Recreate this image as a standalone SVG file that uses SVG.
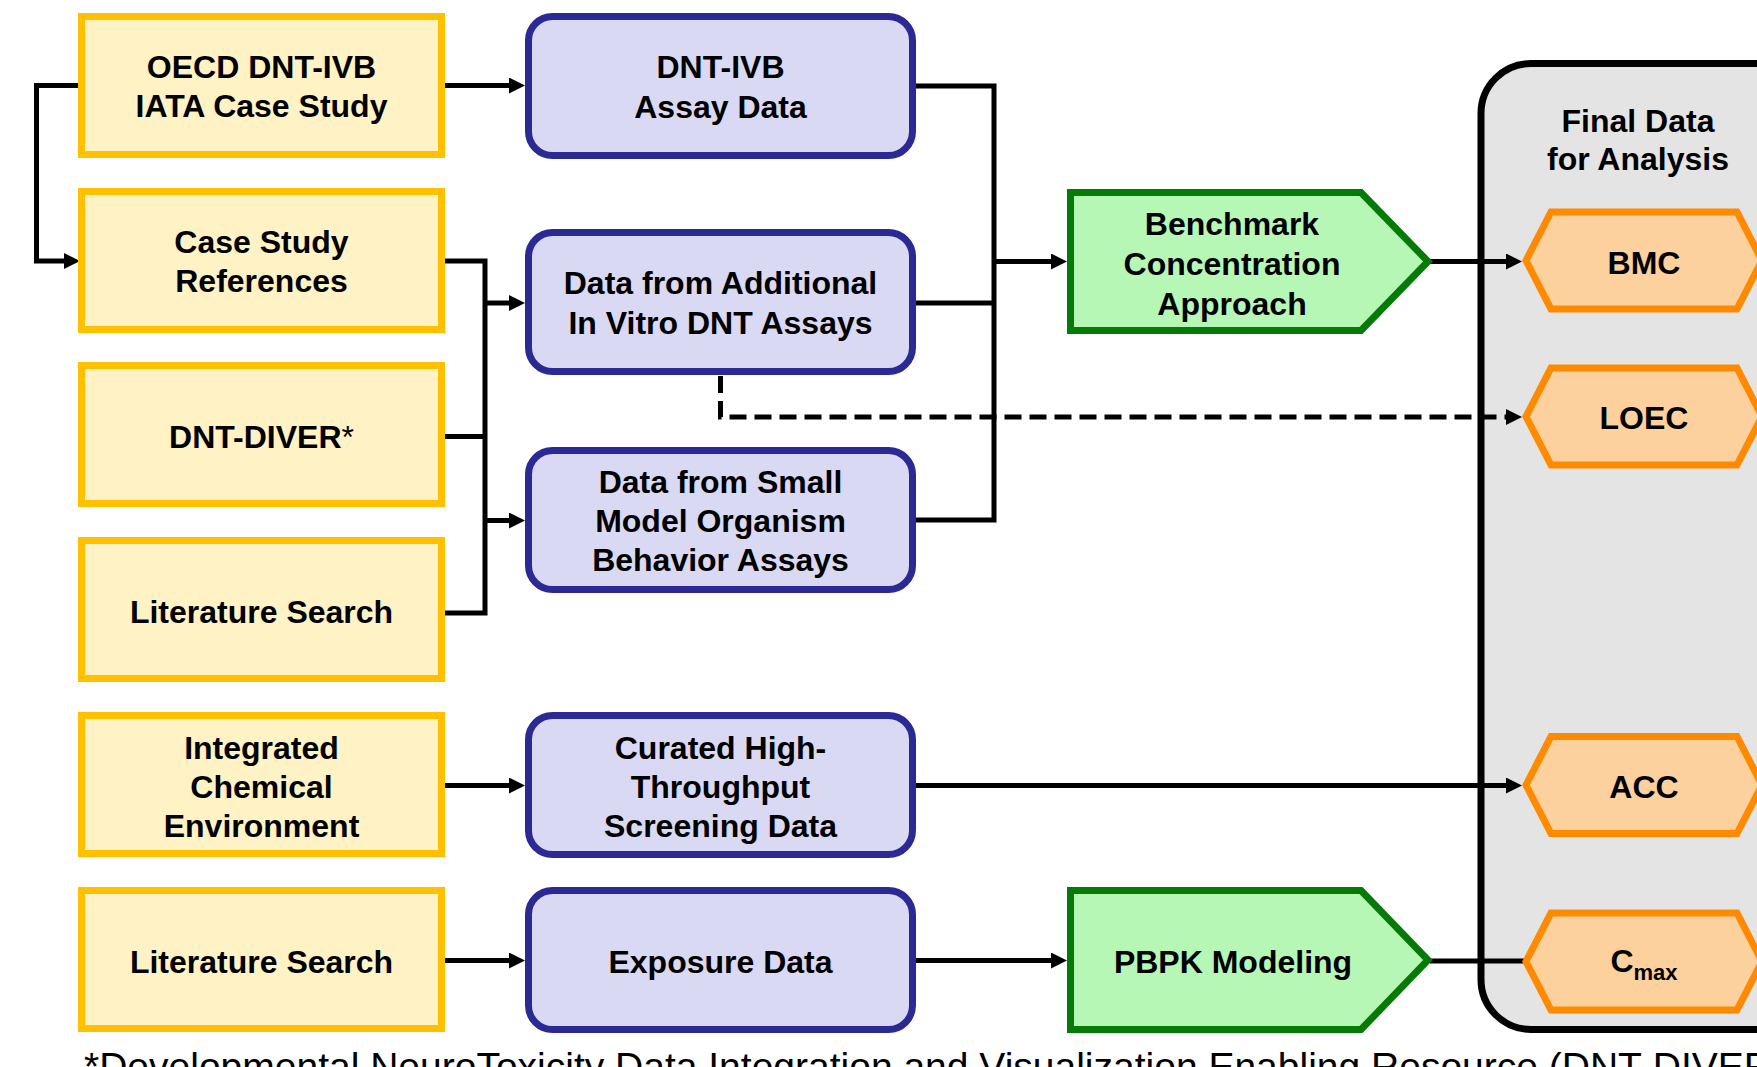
<svg xmlns="http://www.w3.org/2000/svg" width="1757" height="1067" viewBox="0 0 1757 1067">
<defs>
<marker id="arr" markerUnits="userSpaceOnUse" markerWidth="16" markerHeight="16" viewBox="0 0 16 16" refX="2" refY="8" orient="auto">
<path d="M0,0 L16,8 L0,16 z" fill="#000" stroke="none"/>
</marker>
</defs>
<style>
text{font-family:"Liberation Sans",Arial,Helvetica,sans-serif;font-weight:bold;font-size:32px;fill:#000;text-anchor:middle}
.src rect{fill:#FFF2C4;stroke:#FFC000;stroke-width:7}
.data rect{fill:#D9D9F3;stroke:#2B2A94;stroke-width:7}
.proc polygon{fill:#B6F7B6;stroke:#067A06;stroke-width:7;stroke-linejoin:miter}
.out polygon{fill:#FDD19E;stroke:#FF8A00;stroke-width:7;stroke-linejoin:miter}
.edges path{fill:none;stroke:#000;stroke-width:5}
.edges .arrow{marker-end:url(#arr)}
.edges .dash{stroke-dasharray:17 8}
.note{font-weight:normal;font-size:39px;text-anchor:start}
</style>

<g id="final-data">
<rect x="1481" y="63.5" width="420" height="966" rx="50" fill="#E4E4E4" stroke="#000" stroke-width="7"/>
<text x="1638" y="131.5" font-size="31">Final Data</text>
<text x="1638" y="170" font-size="31">for Analysis</text>
</g>

<g id="connectors" class="edges">
<path class="arrow" d="M79,85.5 H36.5 V261 H66"/>
<path class="arrow" d="M444,85.5 H511"/>
<path d="M444,261 H485 V613 H444"/>
<path d="M444,436.5 H485"/>
<path class="arrow" d="M485,303 H511"/>
<path class="arrow" d="M485,520.5 H511"/>
<path d="M915,86 H994 V520 H915"/>
<path d="M915,303 H994"/>
<path class="arrow" d="M994,261.5 H1053"/>
<path class="arrow" d="M1430,261.5 H1508"/>
<path class="arrow dash" d="M720.5,376 V417 H1508"/>
<path class="arrow" d="M444,785.5 H511"/>
<path class="arrow" d="M915,785.5 H1508"/>
<path class="arrow" d="M444,960.5 H511"/>
<path class="arrow" d="M915,960.5 H1053"/>
<path d="M1430,961 H1526"/>
</g>

<g id="oecd" class="src"><rect x="81.5" y="16.5" width="360" height="138"/>
<text x="261.5" y="77.5">OECD DNT-IVB</text><text x="261.5" y="117">IATA Case Study</text></g>
<g id="case-refs" class="src"><rect x="81.5" y="191.5" width="360" height="138"/>
<text x="261.5" y="252.5">Case Study</text><text x="261.5" y="292">References</text></g>
<g id="dnt-diver" class="src"><rect x="81.5" y="365.5" width="360" height="138"/>
<text x="261.5" y="447.5">DNT-DIVER<tspan font-weight="normal">*</tspan></text></g>
<g id="lit-search-1" class="src"><rect x="81.5" y="540.5" width="360" height="138"/>
<text x="261.5" y="622.5">Literature Search</text></g>
<g id="ice" class="src"><rect x="81.5" y="715.5" width="360" height="138"/>
<text x="261.5" y="759">Integrated</text><text x="261.5" y="798">Chemical</text><text x="261.5" y="837">Environment</text></g>
<g id="lit-search-2" class="src"><rect x="81.5" y="890.5" width="360" height="138"/>
<text x="261.5" y="972.5">Literature Search</text></g>

<g id="dnt-ivb-data" class="data"><rect x="528.5" y="16.5" width="384" height="139" rx="24"/>
<text x="720.5" y="78">DNT-IVB</text><text x="720.5" y="117.5">Assay Data</text></g>
<g id="additional-data" class="data"><rect x="528.5" y="232.5" width="384" height="139" rx="24"/>
<text x="720.5" y="294">Data from Additional</text><text x="720.5" y="333.5">In Vitro DNT Assays</text></g>
<g id="small-model-data" class="data"><rect x="528.5" y="450.5" width="384" height="139" rx="24"/>
<text x="720.5" y="493">Data from Small</text><text x="720.5" y="532">Model Organism</text><text x="720.5" y="571">Behavior Assays</text></g>
<g id="hts-data" class="data"><rect x="528.5" y="715.5" width="384" height="139" rx="24"/>
<text x="720.5" y="759">Curated High-</text><text x="720.5" y="798">Throughput</text><text x="720.5" y="837">Screening Data</text></g>
<g id="exposure-data" class="data"><rect x="528.5" y="890.5" width="384" height="139" rx="24"/>
<text x="720.5" y="973">Exposure Data</text></g>

<g id="bmc-approach" class="proc"><polygon points="1070.5,192.5 1361,192.5 1428,261.5 1361,330.5 1070.5,330.5"/>
<text x="1232" y="235">Benchmark</text><text x="1232" y="275">Concentration</text><text x="1232" y="315">Approach</text></g>
<g id="pbpk" class="proc"><polygon points="1070.5,890.5 1361,890.5 1428,960 1361,1029.5 1070.5,1029.5"/>
<text x="1233" y="973">PBPK Modeling</text></g>

<g id="bmc" class="out"><polygon points="1526,260.5 1551,212 1737,212 1762,260.5 1737,309 1551,309"/>
<text x="1644" y="274">BMC</text></g>
<g id="loec" class="out"><polygon points="1526,416.5 1551,368 1737,368 1762,416.5 1737,465 1551,465"/>
<text x="1644" y="429">LOEC</text></g>
<g id="acc" class="out"><polygon points="1526,785 1551,736.5 1737,736.5 1762,785 1737,833.5 1551,833.5"/>
<text x="1644" y="798">ACC</text></g>
<g id="cmax" class="out"><polygon points="1526,961.5 1551,913 1737,913 1762,961.5 1737,1010 1551,1010"/>
<text x="1644" y="972">C<tspan font-size="22" dy="8">max</tspan></text></g>

<text class="note" x="84" y="1080">*Developmental NeuroToxicity Data Integration and Visualization Enabling Resource (DNT-DIVER)</text>
</svg>
